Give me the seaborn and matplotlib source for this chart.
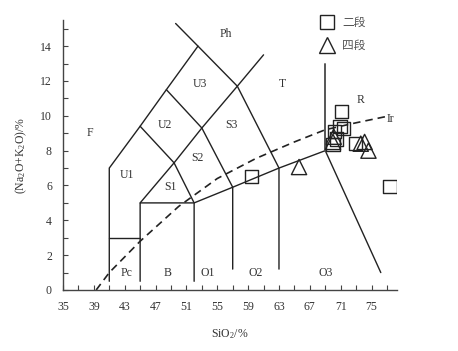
import matplotlib
matplotlib.use("Agg")
import matplotlib.pyplot as plt
import seaborn as sns
import pandas as pd
from matplotlib.lines import Line2D

# ---- data ----
sq_sio2 = [59.4, 71.1, 70.9, 71.4, 70.2, 70.45, 70.0, 72.9, 77.4]
sq_alk = [6.5, 10.26, 9.4, 9.25, 9.1, 8.67, 8.35, 8.4, 5.93]
tri_sio2 = [65.6, 70.1, 70.0, 73.6, 74.1, 74.6]
tri_alk = [7.06, 8.8, 8.5, 8.4, 8.5, 8.0]

# Irvine & Baragar divide (dashed)
ir_sio2 = [39.3, 41.0, 45.0, 50.0, 55.0, 60.0, 65.0, 69.0, 73.0, 76.8]
ir_alk = [0.0, 1.0, 2.8, 4.8, 6.4, 7.55, 8.5, 9.2, 9.6, 9.95]

# TAS field boundaries (polylines)
boundaries = [
    [(41, 0.5), (41, 7), (45, 9.4), (48.4, 11.5), (52.5, 14)],
    [(41, 3), (45, 3)],
    [(45, 0.5), (45, 5), (52, 5), (57, 5.9), (63, 7), (69, 8)],
    [(45, 5), (49.4, 7.3), (53, 9.3), (57.6, 11.7), (61, 13.5)],
    [(52, 0.5), (52, 5), (49.4, 7.3), (45, 9.4)],
    [(57, 1.2), (57, 5.9), (53, 9.3), (48.4, 11.5)],
    [(63, 1.2), (63, 7), (57.6, 11.7), (52.5, 14), (49.6, 15.3)],
    [(69, 8), (76.2, 1.0)],
]
rt_line = [(69, 8), (69, 13)]

field_labels = ["F", "U1", "U2", "U3", "Ph", "T", "S1", "S2", "S3", "R", "Ir",
                "Pc", "B", "O1", "O2", "O3"]
label_x = [38.5, 43.3, 48.2, 52.7, 56.1, 63.5, 48.9, 52.4, 56.9, 73.6, 77.5,
           43.2, 48.5, 53.8, 60.0, 69.1]
label_y = [9.0, 6.6, 9.5, 11.85, 14.7, 11.85, 5.9, 7.6, 9.5, 10.9, 9.8,
           1.0, 1.0, 1.0, 1.0, 1.0]

series_names = ["二段", "四段"]

x_ticks = [35, 39, 43, 47, 51, 55, 59, 63, 67, 71, 75]
y_ticks = [0, 2, 4, 6, 8, 10, 12, 14]

# ---- figure ----
sns.set_style("ticks")
plt.rcParams["font.family"] = ["Liberation Serif", "Noto Sans CJK SC"]
plt.rcParams["mathtext.fontset"] = "custom"
plt.rcParams["mathtext.rm"] = "Liberation Serif"
plt.rcParams["mathtext.it"] = "Liberation Serif:italic"

fig = plt.figure(figsize=(4.58, 3.51), dpi=100)
ax = fig.add_axes([63 / 458, (351 - 290) / 351, 334 / 458, 270 / 351])

lc = "#222222"
for seg in boundaries:
    xs, ys = zip(*seg)
    ax.plot(xs, ys, color=lc, lw=1.0, solid_joinstyle="miter")
xs, ys = zip(*rt_line)
ax.plot(xs, ys, color="#555555", lw=1.4)

ax.plot(ir_sio2, ir_alk, color=lc, lw=1.2, dashes=(4.5, 3))

df_sq = pd.DataFrame({"SiO2": sq_sio2, "alk": sq_alk, "stage": series_names[0]})
df_tri = pd.DataFrame({"SiO2": tri_sio2, "alk": tri_alk, "stage": series_names[1]})
sns.scatterplot(data=df_sq, x="SiO2", y="alk", marker="s", s=90,
                facecolor="none", edgecolor="#222222", linewidth=1.0, ax=ax, zorder=5)
sns.scatterplot(data=df_tri, x="SiO2", y="alk", marker="^", s=120,
                facecolor="none", edgecolor="#222222", linewidth=1.0, ax=ax, zorder=5)

for t, x, y in zip(field_labels, label_x, label_y):
    ax.text(x, y, t, fontsize=8.5, color="#333333", ha="center", va="center")

ax.set_xlim(35, 78.3)
ax.set_ylim(0, 15.5)
ax.set_xticks(x_ticks)
ax.set_xticks([37, 41, 45, 49, 53, 57, 61, 65, 69, 73, 77], minor=True)
ax.set_yticks(y_ticks)
ax.set_yticks([1, 3, 5, 7, 9, 11, 13, 15], minor=True)
ax.tick_params(which="both", direction="in", length=3.5, width=0.8,
               color="#444444", labelsize=8.5, labelcolor="#333333")
ax.tick_params(axis="x", pad=8)
ax.tick_params(axis="y", pad=8)
sns.despine(ax=ax)
for sp in ["left", "bottom"]:
    ax.spines[sp].set_color("#444444")
    ax.spines[sp].set_linewidth(1.0)

ax.set_xlabel("SiO$_2$/%", fontsize=8.5, color="#333333", labelpad=10)
ax.set_ylabel("(Na$_2$O+K$_2$O)/%", fontsize=8.5, color="#333333", labelpad=8)

handles = [
    Line2D([], [], marker="s", ls="none", mfc="none", mec="#222222", ms=10, mew=1.0),
    Line2D([], [], marker="^", ls="none", mfc="none", mec="#222222", ms=11, mew=1.0),
]
leg = ax.legend(handles, series_names, loc="upper left", bbox_to_anchor=(0.74, 1.055),
                frameon=False, handletextpad=0.8, labelspacing=0.85,
                handlelength=1.0, prop={"family": ["Noto Sans CJK SC"], "size": 8.5})
for t in leg.get_texts():
    t.set_color("#555555")

fig.savefig("out.png", dpi=100)
